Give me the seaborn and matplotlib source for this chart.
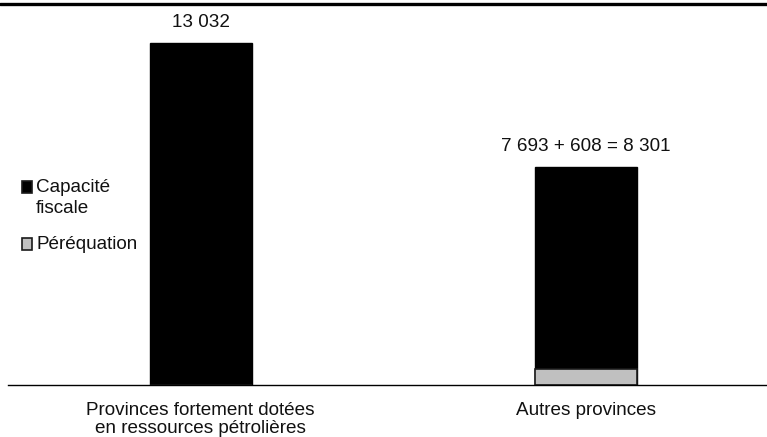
import matplotlib
matplotlib.use("Agg")
import matplotlib.pyplot as plt
from matplotlib.lines import Line2D
from matplotlib.patches import Rectangle
import seaborn as sns
import pandas as pd

# values shown on the chart
categories = ["Provinces fortement dotées\nen ressources pétrolières", "Autres provinces"]
capacite = [13032, 7693]
perequation = [0, 608]
series_names = ["Capacité\nfiscale", "Péréquation"]
series_colors = ["black", "#c0c0c0"]


def fmt(v):
    return f"{v:,}".replace(",", " ")


totals = [c + p for c, p in zip(capacite, perequation)]
df = pd.DataFrame({"cat": categories, "total": totals, "pereq": perequation})

sns.set_style("white")
plt.rcParams["font.family"] = ["Liberation Sans", "DejaVu Sans"]
FS = 13.6

W, H = 767, 437
fig = plt.figure(figsize=(W / 100, H / 100), dpi=100)
ax = fig.add_axes([8 / W, 1 - 385 / H, 1 - 8 / W, 375 / H])

# black bar = full height, grey péréquation drawn over its bottom
sns.barplot(data=df, x="cat", y="total", color=series_colors[0], width=0.265,
            edgecolor="black", linewidth=1, saturation=1, ax=ax)
sns.barplot(data=df, x="cat", y="pereq", color=series_colors[1], width=0.265,
            edgecolor="#1a1a1a", linewidth=1.2, saturation=1, ax=ax)

ax.set_xlim(-0.5, 1.47)
ax.set_ylim(0, 14290)

labels = [fmt(capacite[0]),
          f"{fmt(capacite[1])} + {fmt(perequation[1])} = {fmt(totals[1])}"]
for i, (t, lab) in enumerate(zip(totals, labels)):
    ax.annotate(lab, (i, t), xytext=(0, 9), textcoords="offset points",
                ha="center", va="bottom", fontsize=FS, color="#111111")

sns.despine(ax=ax, left=True, top=True, right=True)
ax.spines["bottom"].set_color("black")
ax.spines["bottom"].set_linewidth(1)
ax.set_yticks([])
ax.set_xlabel("")
ax.set_ylabel("")
ax.tick_params(axis="x", length=0, pad=12, labelsize=FS, colors="#111111")
for lab in ax.get_xticklabels():
    lab.set_linespacing(1.1)

# legend drawn by hand: square next to the first line of each label
legend_base = [192, 249]
line_gap = 21.5
for base, name, col in zip(legend_base, series_names, series_colors):
    fig.add_artist(Rectangle((21.5 / W, 1 - (base + 0.5) / H), 10.5 / W, 11.5 / H,
                             facecolor=col, edgecolor="#1a1a1a", linewidth=1.2,
                             transform=fig.transFigure))
    for k, part in enumerate(name.split("\n")):
        fig.text(36 / W, 1 - (base + k * line_gap) / H, part, fontsize=FS,
                 color="#111111", va="baseline", ha="left")

fig.add_artist(Line2D([0, 1], [1 - 4.3 / H, 1 - 4.3 / H], color="black",
                      linewidth=2.4, transform=fig.transFigure))

fig.savefig("out.png", dpi=100)
